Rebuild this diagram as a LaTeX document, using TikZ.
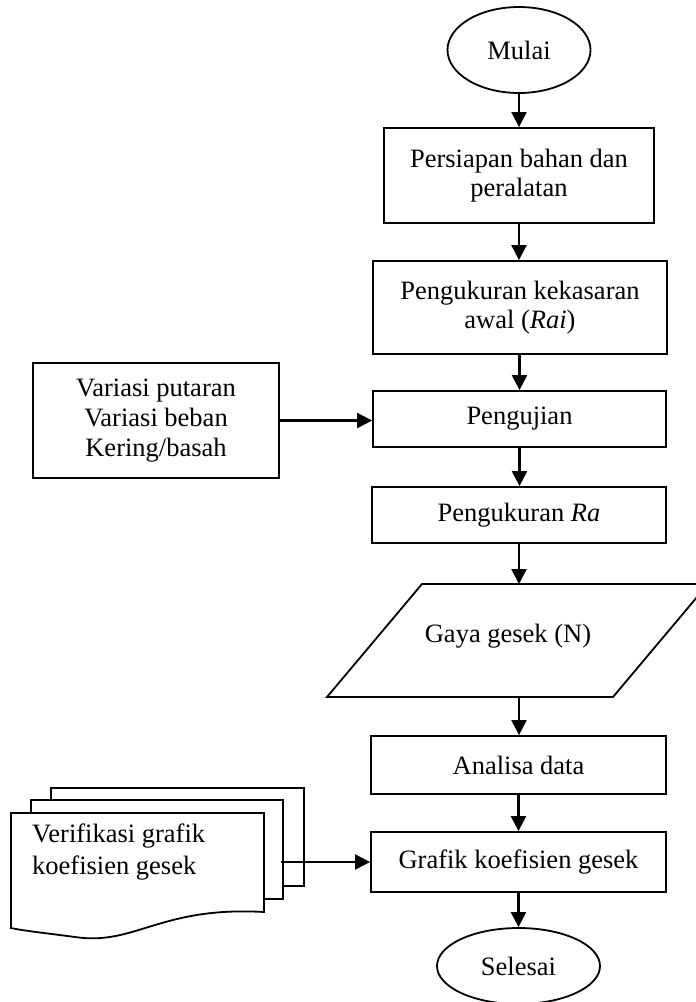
\documentclass[tikz,border=0pt]{standalone}
\usepackage{fontspec}
\setmainfont{Liberation Serif}
\usetikzlibrary{shapes.geometric,arrows.meta}
\begin{document}
\begin{tikzpicture}[x=1pt,y=-1pt,
  txt/.style={font=\fontsize{26.5}{29}\selectfont},
  box/.style={txt,draw,line width=1.8pt,rectangle,align=center,inner sep=0pt},
  term/.style={txt,draw,line width=1.8pt,ellipse,inner sep=0pt},
  shp/.style={draw,line width=1.8pt,fill=white,line join=miter},
  arr/.style={line width=2.2pt,-{Triangle[length=15pt,width=15pt]}}]
\useasboundingbox (0,0) rectangle (696,1002);
\clip (0,0) rectangle (696,1002);

% main column
\node[term,minimum width=143pt,minimum height=86pt] (mulai) at (519,50) {Mulai};
\node[box,minimum width=270pt,minimum height=95pt] (b1) at (519,175.5) {Persiapan bahan dan\\peralatan};
\node[box,minimum width=294pt,minimum height=93pt] (b2) at (520,307.5) {Pengukuran kekasaran\\awal (\textit{Rai})};
\node[box,minimum width=293pt,minimum height=56pt] (b3) at (519.5,419) {Pengujian};
\node[box,minimum width=294pt,minimum height=56pt] (b4) at (519,515) {Pengukuran \textit{Ra}};

% parallelogram
\draw[shp] (422,584) -- (708,584) -- (613,697) -- (327,697) -- cycle;
\coordinate (ptop) at (519,584);
\coordinate (pbot) at (519,697);
\node[txt,inner sep=0pt] (gaya) at (508,636) {Gaya gesek (N)};

\node[box,minimum width=295pt,minimum height=58pt] (b5) at (518.5,765) {Analisa data};
\node[box,minimum width=295pt,minimum height=60pt] (b6) at (518.5,862) {Grafik koefisien gesek};
\node[term,minimum width=163pt,minimum height=76pt] (selesai) at (518.5,966) {Selesai};

% side input box
\node[box,minimum width=246pt,minimum height=115pt,font=\fontsize{26.5}{30}\selectfont] (lb) at (156,420.5) {Variasi putaran\\Variasi beban\\Kering/basah};

% multidocument
\draw[shp] (51,788) rectangle (304,886);
\draw[shp] (31,800) rectangle (283,899);
\draw[shp] (11,813) -- (264,813) -- (264,912)
  .. controls (160,906) and (135,946) .. (75,937)
  .. controls (45,933) and (25,931) .. (11,928) -- cycle;
\node[txt,align=left,anchor=north west,inner sep=0pt,font=\fontsize{26.5}{32}\selectfont] (doc) at (32,824) {Verifikasi grafik\\koefisien gesek};
\coordinate (docout) at (281,862);

% connectors
\draw[arr] (mulai.south) -- (mulai.south |- b1.north);
\draw[arr] (b1.south) -- (b1.south |- b2.north);
\draw[arr] (b2.south -| b3) -- (b3.north);
\draw[arr] (b3.south) -- (b3.south |- b4.north);
\draw[arr] (b4.south) -- (b4.south |- ptop);
\draw[arr] (pbot) -- (pbot |- b5.north);
\draw[arr] (b5.south) -- (b5.south |- b6.north);
\draw[arr] (b6.south) -- (b6.south |- selesai.north);
\draw[arr] (lb.east) -- (lb.east -| b3.west);
\draw[arr] (docout) -- (docout -| b6.west);
\end{tikzpicture}
\end{document}
